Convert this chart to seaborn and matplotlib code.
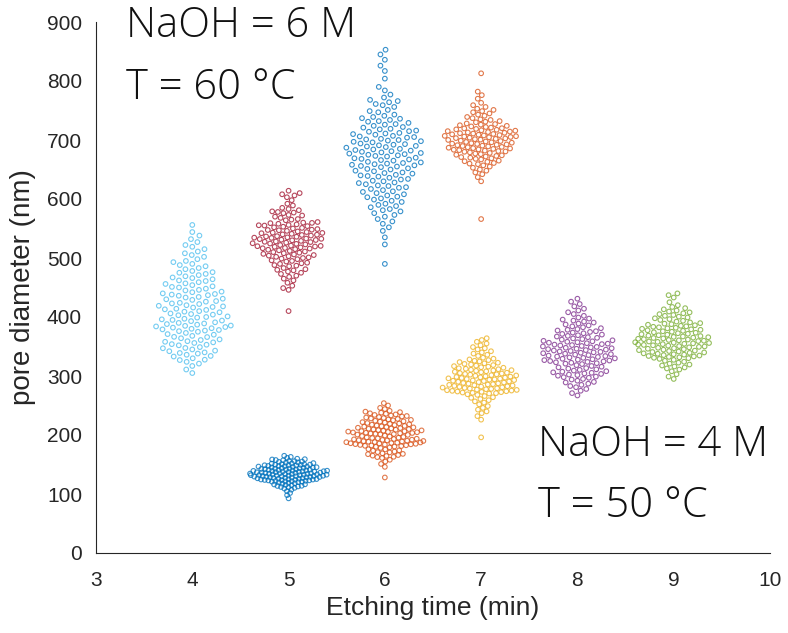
import warnings
import numpy as np
import matplotlib
matplotlib.use("Agg")
import matplotlib.pyplot as plt
from matplotlib.colors import to_rgba
from matplotlib import font_manager
import seaborn as sns

warnings.filterwarnings("ignore")

# ---------------- data (pore diameters, nm) ----------------
times_6M = [4, 5, 6, 7]
times_4M = [5, 6, 7, 8, 9]
colors_6M = ["#4DBEEE", "#A2142F", "#0072BD", "#D95319"]
colors_4M = ["#0072BD", "#D95319", "#EDB120", "#7E2F8E", "#77AC30"]

dia_6M_4min = [
    305, 311, 317,
    321, 324, 327, 327.6, 330, 333, 334, 336, 338, 339,
    340, 342, 343, 345, 347, 347.5, 349, 352, 353, 354, 356, 357, 358, 359,
    361, 362, 364, 366, 366.4, 368, 370, 371, 373, 375, 376, 377, 378, 379,
    380, 381, 382, 383, 384, 385, 385.5, 387, 388, 389, 390, 391, 393, 394, 395, 396, 397, 399,
    400, 401, 403, 404, 405, 406, 408, 409, 410, 412, 413, 414, 416, 417, 418, 419,
    420, 422, 423, 424, 426, 427, 429, 430, 431, 433, 434, 436, 437, 438, 439,
    440, 442, 443, 445, 446, 448, 450, 451, 452, 454, 456, 457, 459,
    461, 462, 464, 466, 467, 469, 471, 473, 475, 476, 478,
    481, 483, 486, 488, 490, 493, 495, 498,
    502, 505, 508, 511, 515, 519,
    522, 527, 532, 538,
    544, 556]

dia_6M_5min = [
    410,
    446, 449, 453, 458,
    462, 465, 468, 470, 473, 475, 477, 479,
    480, 481, 483, 486, 487, 488, 490, 491, 492, 494, 495, 496, 498, 499,
    500, 501, 502, 503, 504, 505, 506, 507, 508, 509, 510, 511, 512, 513, 514, 515, 516, 516.5, 517, 518, 519, 519.5,
    520, 520.5, 521, 522, 523, 524, 524.5, 525, 526, 527, 527.5, 528, 529, 530, 530.5, 531, 532, 532.5, 533, 534,
    534.5, 535, 536, 536.5, 537, 538, 539, 539.5,
    540, 541, 542, 542.5, 543, 544, 545, 546, 547, 547.5, 548, 549, 550, 551, 552, 553, 554, 555, 555.5, 556,
    557, 558, 559, 559.5,
    560, 561, 564, 565, 566, 568, 570, 572, 573, 576, 577, 578, 579,
    581, 583, 585, 589, 592, 598,
    603, 606, 608, 610, 614]

dia_6M_6min = [
    490, 523, 535, 546, 552, 558,
    562, 566, 570, 573, 576, 579,
    581, 583, 586, 588, 590, 592, 595, 597, 599,
    601, 603, 604, 606, 608, 610, 612, 613, 615, 617, 619,
    620, 622, 623, 625, 627, 628, 630, 631, 633, 634, 636, 638, 639,
    640, 641, 643, 644, 645, 647, 648, 650, 651, 652, 654, 655, 656, 657, 658, 659,
    660, 661, 662, 663, 665, 666, 667, 668, 669, 670, 672, 673, 674, 675, 676, 677, 678, 679,
    680, 681, 682, 683, 684, 685, 687, 688, 689, 690, 691, 692, 693, 694, 696, 697, 698, 699,
    700, 701, 702, 704, 705, 706, 707, 709, 710, 711, 712, 714, 715, 716, 718, 719,
    721, 722, 724, 726, 727, 729, 731, 732, 734, 736, 737, 739,
    741, 743, 747, 749, 751, 756, 759,
    761, 764, 766, 768, 772, 777,
    784, 790, 804, 817, 826, 836, 845, 853]

dia_6M_7min = [
    566,
    630, 637,
    642, 645, 648, 650, 653, 655, 657, 659,
    660, 661, 663, 664, 665, 667, 668, 669, 670, 671, 672, 673, 674, 675, 676, 677, 678, 679,
    680, 680.6, 681.3, 682, 682.8, 683.5, 684.1, 684.9, 685.6, 686.2, 686.9, 687.7, 688.3, 689.1, 689.8,
    690.4, 691.2, 691.9, 692.5, 693.3, 693.9, 694.6, 695.4, 696.1, 696.7, 697.5, 698.2, 698.9,
    700.1, 700.6, 701.4, 701.9, 702.7, 703.2, 703.9, 704.6, 705.1, 705.8, 706.4, 707.0, 707.7, 708.3,
    708.9, 709.6, 710.2, 710.9, 711.5, 712.2, 712.8, 713.5, 714.3, 715.0, 715.8, 716.5, 717.3, 718.0,
    718.8, 719.6,
    720, 721, 722, 723, 724, 725, 726, 727, 728, 730, 731, 732, 734, 735, 737, 739,
    741, 743, 745, 747, 749, 751, 753, 756, 759,
    763, 770, 776,
    782, 813]

dia_4M_5min = [
    92.6, 98.1,
    101.7, 104.9, 107.3, 109.2,
    110.4, 111.5, 111.9, 112.8, 113.6, 113.9, 114.8, 115.3, 116.2, 116.4, 117.5, 118.1, 118.9, 119.6,
    120.1, 120.9, 121.0, 121.7, 122.1, 122.4, 123.0, 123.1, 123.6, 123.8, 124.5, 124.6, 125.0, 125.3,
    125.9, 126.0, 126.6, 126.9, 127.2, 127.5, 127.9, 128.2, 128.4, 128.8, 129.0, 129.3, 129.5, 129.9,
    121.4, 124.2,
    130.0, 130.4, 130.5, 130.9, 131.2, 131.3, 131.8, 131.9, 132.1, 132.6, 132.8, 133.0, 133.3, 133.5,
    133.9, 134.1, 134.4, 134.6, 135.0, 135.1, 135.5, 135.9, 136.2, 136.4, 136.8, 137.0, 137.3, 137.7,
    137.9, 138.2, 138.5, 138.6, 139.0, 139.2, 139.5, 139.8,
    140.1, 140.6, 140.8, 141.3, 141.4, 141.9, 142.2, 142.5, 143.0, 143.1, 143.7, 143.9, 144.3, 144.8,
    145.0, 145.4, 145.9, 146.3, 146.5, 147.1, 147.4, 147.6, 148.2, 148.7, 148.9, 149.4, 149.8, 149.5,
    150.3, 150.6, 151.5, 151.8, 152.4, 153.1, 153.5, 154.4, 155.0, 155.7, 156.1, 157.2, 157.6, 158.5,
    159.0, 159.8,
    161.2, 162.9, 164.8]

dia_4M_6min = [
    128,
    146, 151, 155, 158,
    161, 162.5, 163, 164.5, 165, 166, 167.5, 168, 169, 170.5, 171, 172, 173.5, 174, 175.5, 176, 178, 179,
    180, 180.4, 181.2, 181.7, 182.3, 182.6, 183.1, 183.8, 184.2, 184.5, 185.1, 185.6, 186.0, 186.4,
    186.9, 187.3, 187.8, 188.1, 188.6, 189.0, 189.5, 189.9, 190.3, 190.8, 191.2, 191.7, 192.1, 192.6,
    193.2, 193.7, 194.3, 194.9, 195.4, 196.0, 196.7, 197.4, 198.2, 199.1,
    200.2, 200.7, 201.1, 201.6, 202.0, 202.5, 202.9, 203.4, 203.8, 204.3, 204.7, 205.2, 205.8, 206.3,
    206.7, 207.2, 207.8, 208.3, 208.9, 209.4, 210.0, 210.6, 211.1, 211.7, 212.3, 212.9, 213.5, 214.1,
    214.8, 215.4, 216.1, 216.8, 217.5, 218.2, 218.9, 219.6,
    220.3, 221.1, 221.8, 222.6, 223.3, 224.1, 224.9, 225.6, 226.4, 227.2, 228.0, 228.8, 229.7, 230.5,
    231.4, 232.2, 233.1, 234.0, 234.9, 235.9, 236.8, 237.8, 238.7, 239.6,
    241, 244, 246, 250, 254]

dia_4M_7min = [
    196, 226,
    232, 237, 240, 243, 246, 249,
    252, 255, 257, 259, 261, 263, 264, 266, 268, 269,
    270.3, 270.9, 271.5, 272.0, 272.6, 273.1, 273.7, 274.2, 274.8, 275.3, 275.9, 276.4, 277.0, 277.6,
    278.1, 278.7, 279.2, 279.8, 280.4, 280.9, 281.5, 282.1, 282.6, 283.2, 283.8, 284.4, 285.0, 285.6,
    286.2, 286.9, 287.5, 288.2, 288.9, 289.6,
    290.2, 290.8, 291.4, 292.0, 292.5, 293.1, 293.7, 294.3, 294.9, 295.4, 296.0, 296.6, 297.2, 297.8,
    298.4, 299.0, 299.6, 300.3, 300.9, 301.5, 302.2, 302.9, 303.5, 304.2, 304.9, 305.6, 306.4, 307.2,
    308.0, 308.8, 309.4, 309.9,
    310.6, 311.5, 312.3, 313.2, 314.0, 314.9, 315.8, 316.7, 317.6, 318.5, 319.5, 320.5, 321.5, 322.5,
    323.6, 324.7, 325.8, 326.9, 328.1, 329.3,
    331, 334, 336, 338, 340, 342, 345, 347, 349,
    352, 355, 358, 361, 364]

dia_4M_8min = [
    267, 271, 275, 278,
    281, 283, 285, 287, 289, 290, 292, 294, 295, 297, 298, 299,
    300.5, 301.6, 302.4, 303.5, 304.3, 305.4, 306.2, 307.3, 308.1, 309.2, 310.4, 311.3, 312.5, 313.4,
    314.6, 315.7, 317.0, 318.4,
    320.2, 320.9, 321.7, 322.4, 323.2, 323.9, 324.7, 325.4, 326.2, 326.9, 327.7, 328.4, 329.2, 329.9,
    330.7, 331.5, 332.3, 333.0, 333.8, 334.6, 335.4, 336.2, 337.0, 337.8, 338.6, 339.4,
    340.1, 340.9, 341.6, 342.4, 343.2, 343.9, 344.7, 345.5, 346.2, 347.0, 347.8, 348.5, 349.3, 350.1,
    350.9, 351.7, 352.4, 353.2, 354.0, 354.8, 355.6, 356.4, 357.2, 358.0, 358.8, 359.6,
    360.5, 361.6, 362.6, 363.7, 364.7, 365.8, 366.9, 368.0, 369.1, 370.2, 371.3, 372.4, 373.6, 374.7,
    375.9, 377.1, 378.3, 379.5,
    381, 382.6, 384.1, 385.7, 387.3, 388.9, 390.6, 392.2, 393.9, 395.6, 397.3, 399.1,
    402, 405, 408, 411, 414, 418,
    422, 426, 431]

dia_4M_9min = [
    295, 299, 303, 308,
    311, 312.8, 314.5, 316.1, 317.8, 319.4, 321, 322.6, 324.2, 325.8, 327.4, 329,
    330.2, 330.9, 331.7, 332.4, 333.2, 333.9, 334.7, 335.4, 336.2, 336.9, 337.7, 338.4, 339.2, 339.9,
    340.7, 341.5, 342.3, 343.0, 343.8, 344.6, 345.4, 346.2, 347.0, 347.8, 348.6, 349.4,
    350.1, 350.7, 351.4, 352.0, 352.7, 353.3, 354.0, 354.6, 355.3, 355.9, 356.6, 357.2, 357.9, 358.5,
    359.2, 359.8, 360.5, 361.1, 361.8, 362.4, 363.1, 363.7, 364.4, 365.0, 365.7, 366.3, 367.0, 367.7,
    368.4, 369.1,
    370.0, 370.8, 371.6, 372.5, 373.3, 374.1, 375.0, 375.8, 376.6, 377.5, 378.3, 379.1, 380.0, 380.8,
    381.7, 382.5, 383.4, 384.2, 385.1, 386.0, 386.9, 387.8, 388.7, 389.6,
    390.8, 392.2, 393.6, 395.0, 396.4, 397.8, 399.2, 400.6, 402.0, 403.4, 404.8, 406.3, 407.8, 409.3,
    411, 413, 415, 417, 420, 425,
    433, 437, 440]

values_6M = [dia_6M_4min, dia_6M_5min, dia_6M_6min, dia_6M_7min]
values_4M = [dia_4M_5min, dia_4M_6min, dia_4M_7min, dia_4M_8min, dia_4M_9min]

x_ticks = [3, 4, 5, 6, 7, 8, 9, 10]
y_ticks = [0, 100, 200, 300, 400, 500, 600, 700, 800, 900]

# ---------------- style ----------------
sns.set_theme(style="white")
plt.rcParams["font.family"] = ["Liberation Sans", "DejaVu Sans"]
DARK = "#262626"
SWARM_WIDTH_PX = 70.0   # target max width of each swarm cloud (pixels)
PACK = 1.0
MARKER_S = 11.0
MARKER_LW = 0.8
ALPHA = 0.78

DPI = 100
fig = plt.figure(figsize=(7.88, 6.33), dpi=DPI)
fig.patch.set_facecolor("white")
ax = fig.add_axes([96 / 788, 80 / 633, 674 / 788, 531 / 633])
ax.set_xlim(3, 10)
ax.set_ylim(0, 900)

px_per_nm = (ax.transData.transform([[0, 1]])[0, 1]
             - ax.transData.transform([[0, 0]])[0, 1])

groups = list(zip(times_6M, values_6M, colors_6M)) + list(zip(times_4M, values_4M, colors_4M))
for t, vals, col in groups:
    vals = np.asarray(vals, dtype=float)
    counts, _ = np.histogram(vals, bins=np.arange(0, 1001, 20))
    dens = counts.max() / (20 * px_per_nm)
    d_px = np.sqrt(SWARM_WIDTH_PX / (PACK * dens))
    lay_pt = d_px * 72 / DPI
    sns.swarmplot(x=np.full(len(vals), float(t)), y=vals, native_scale=True,
                  orient="x", color=col, size=lay_pt, linewidth=0,
                  warn_thresh=1.0, ax=ax, zorder=3)

ax.set_xlim(3, 10)
ax.set_ylim(0, 900)
fig.canvas.draw()

# freeze swarm layout, then restyle to small open circles
for coll, (t, vals, col) in zip(ax.collections, groups):
    coll.__dict__.pop("draw", None)
    coll.set_sizes([MARKER_S])
    coll.set_facecolor("none")
    coll.set_edgecolor(to_rgba(col, ALPHA))
    coll.set_linewidths([MARKER_LW])

ax.set_xticks(x_ticks)
ax.set_yticks(y_ticks)
ax.set_xticklabels([str(v) for v in x_ticks])
ax.set_yticklabels([str(v) for v in y_ticks])
ax.tick_params(axis="both", direction="in", length=4, width=0.8, colors=DARK, labelsize=15)
ax.tick_params(axis="x", pad=13)
ax.tick_params(axis="y", pad=10)
for side in ["top", "right"]:
    ax.spines[side].set_visible(False)
for side in ["left", "bottom"]:
    ax.spines[side].set_color(DARK)
    ax.spines[side].set_linewidth(0.8)
ax.set_xlabel("Etching time (min)", fontsize=19, color=DARK, labelpad=4)
ax.set_ylabel("pore diameter (nm)", fontsize=20, color=DARK, labelpad=8)
ax.grid(False)

light_ok = any(f.name == "Open Sans" and f.weight in (300, "light")
               for f in font_manager.fontManager.ttflist)
ann_kw = dict(fontsize=30, family=["Open Sans", "DejaVu Sans"], va="baseline", ha="left",
              color="#111111", fontweight=("light" if light_ok else "normal"))
fig.text(126 / 788, 1 - 37 / 633, "NaOH = 6 M", **ann_kw)
fig.text(126 / 788, 1 - 99 / 633, "T = 60 °C", **ann_kw)
fig.text(538 / 788, 1 - 456 / 633, "NaOH = 4 M", **ann_kw)
fig.text(538 / 788, 1 - 517 / 633, "T = 50 °C", **ann_kw)

fig.savefig("out.png", dpi=DPI, facecolor="white")
